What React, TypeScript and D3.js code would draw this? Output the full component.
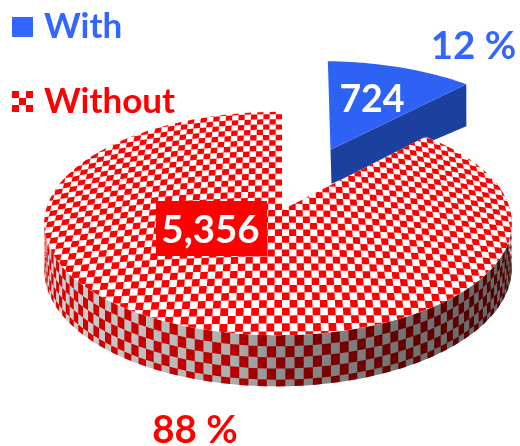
import * as d3 from 'd3';
import { useEffect, useRef } from 'react';

const categories = ['With', 'Without'];
const values = [724, 5356];

const width = 520;
const height = 446;
const BLUE = '#3366ff';
const RED = '#ff0000';

// tilted disc -> screen (plain homography, disc radius is 1)
const cx = 282;
const cy = 210;
const R = 232;
const B = 110;
const K = 0.121;
const M = -0.017;

const den = (u: number, v: number) => 1 - K * v - M * u;
const project = (u: number, v: number): [number, number] => {
  const d = den(u, v);
  return [cx + (R * u) / d, cy + (B * v) / d];
};
const polar = (a: number, r = 1): [number, number] => [r * Math.sin(a), -r * Math.cos(a)];

export default function App() {
  const ref = useRef<SVGSVGElement | null>(null);

  useEffect(() => {
    if (!ref.current) return;
    const svg = d3.select(ref.current);
    svg.selectAll('*').remove();

    const total = d3.sum(values);
    const arcs = d3.pie<number>().sort(null)(values);
    const [blue, red] = arcs;
    const line = d3.line();
    const defs = svg.append('defs');

    const soft = defs.append('filter').attr('id', 'soft');
    soft.append('feGaussianBlur').attr('stdDeviation', 0.55);

    const root = svg.append('g').attr('filter', 'url(#soft)');

    // ---- exploded blue slice
    const mid = (blue.startAngle + blue.endAngle) / 2;
    const [ou, ov] = polar(mid, 0.634);
    const bluePts: [number, number][] = [[ou, ov]];
    d3.range(0, 1.001, 0.04).forEach((t) => {
      const [u, v] = polar(blue.startAngle + t * (blue.endAngle - blue.startAngle));
      bluePts.push([u + ou, v + ov]);
    });
    // the slice sits a bit larger and more upright than the plain projection
    const [ax, ay] = project(ou, ov);
    const blueTop = bluePts.map(([u, v]): [number, number] => {
      const [x, y] = project(u, v);
      return [ax - 1.5 + 1.03 * (x - ax) + 0.03 * (ay - y), ay + 1.03 * (y - ay)];
    });
    const apex = blueTop[0];
    const corner = blueTop[blueTop.length - 1];
    root.append('path')
      .attr('d', line([apex, corner, [corner[0], corner[1] + 42], [apex[0] + 1, apex[1] + 34]]) + 'Z')
      .attr('fill', '#1d3f9e');
    root.append('path').attr('d', line(blueTop) + 'Z').attr('fill', '#2f62f5');

    // ---- red rim, checker in angle and height
    const g1 = defs.append('linearGradient').attr('id', 'rimGrey')
      .attr('gradientUnits', 'userSpaceOnUse')
      .attr('x1', 44).attr('x2', 512).attr('y1', 0).attr('y2', 0);
    const g2 = defs.append('linearGradient').attr('id', 'rimRed')
      .attr('gradientUnits', 'userSpaceOnUse')
      .attr('x1', 44).attr('x2', 512).attr('y1', 0).attr('y2', 0);
    [['0', '#d2d2d2', '#dc0000'], ['0.4', '#aeaeae', '#b80000'], ['0.52', '#8a8a8a', '#860000'], ['0.75', '#747474', '#680000'], ['1', '#666666', '#500000']]
      .forEach(([o, grey, r]) => {
        g1.append('stop').attr('offset', o).attr('stop-color', grey);
        g2.append('stop').attr('offset', o).attr('stop-color', r);
      });

    const rimDepth = 45;
    const rimPoint = (a: number, f: number): [number, number] => {
      const [u, v] = polar(a);
      const [x, y] = project(u, v);
      return [x, y + (f * rimDepth) / den(u, v)];
    };
    const a0 = (75 * Math.PI) / 180;
    const a1 = (285 * Math.PI) / 180;
    const band = d3.range(a0, a1, 0.01);
    root.append('path')
      .attr('d', line([...band.map((a) => rimPoint(a, 0)), ...band.slice().reverse().map((a) => rimPoint(a, 1))]) + 'Z')
      .attr('fill', 'url(#rimGrey)');
    const rimStep = 0.035;
    const rows = 4.6;
    let rimCells = '';
    d3.range(0, Math.ceil((a1 - a0) / rimStep)).forEach((i) => {
      d3.range(0, 5).forEach((j) => {
        if ((i + j) % 2) return;
        const a = a0 + i * rimStep;
        const f0 = j / rows;
        const f1 = Math.min(1, (j + 1) / rows);
        rimCells += line([rimPoint(a, f0), rimPoint(a + rimStep, f0), rimPoint(a + rimStep, f1), rimPoint(a, f1)]) + 'Z';
      });
    });
    root.append('path').attr('d', rimCells).attr('fill', 'url(#rimRed)');

    // ---- red top face
    const redPts: [number, number][] = [[0, 0]];
    d3.range(0, 1.0001, 0.005).forEach((t) => {
      redPts.push(polar(red.startAngle + t * (red.endAngle - red.startAngle)));
    });
    const redTop = line(redPts.map(([u, v]) => project(u, v))) + 'Z';
    defs.append('clipPath').attr('id', 'redClip').append('path').attr('d', redTop);
    root.append('path').attr('d', redTop).attr('fill', '#fff');

    const du = 6.9 / R;
    const dv = 6.3 / B;
    // rows bow upward toward the back of the disc
    const cell = (x: number, y: number) => project(x, y + 0.16 * (1 - y) * x * x);
    let cells = '';
    d3.range(-42, 43).forEach((i) => {
      d3.range(-24, 25).forEach((j) => {
        if ((i + j + 200) % 2) return;
        const x = i * du;
        const y = j * dv;
        cells += line([cell(x, y), cell(x + du, y), cell(x + du, y + dv), cell(x, y + dv)]) + 'Z';
      });
    });
    root.append('g').attr('clip-path', 'url(#redClip)')
      .append('path').attr('d', cells).attr('fill', RED);

    // ---- labels
    const font = 'Lato, Carlito, sans-serif';
    const addText = (x: number, y: number, txt: string, size: number, fill: string, anchor = 'middle') =>
      root.append('text')
        .attr('x', x).attr('y', y)
        .attr('text-anchor', anchor)
        .attr('fill', fill)
        .style('font-family', font)
        .style('font-weight', 700)
        .style('font-size', `${size}px`)
        .text(txt);

    root.append('rect').attr('x', 156).attr('y', 201).attr('width', 111).attr('height', 55).attr('fill', RED);
    addText(372, 112, d3.format(',')(values[0]), 37.5, '#fff');
    addText(210.5, 243, d3.format(',')(values[1]), 38.5, '#fff');

    const pct = (v: number) => `${Math.round((v / total) * 100)} %`;
    addText(473.5, 59, pct(values[0]), 38.5, BLUE);
    addText(195, 443, pct(values[1]), 38.5, RED);

    // ---- legend
    root.append('rect').attr('x', 12).attr('y', 17).attr('width', 21).attr('height', 20).attr('fill', BLUE);
    d3.range(9).forEach((i) => {
      if (i % 2) return;
      root.append('rect')
        .attr('x', 12 + (i % 3) * 7).attr('y', 91 + Math.floor(i / 3) * 7)
        .attr('width', 7).attr('height', 7).attr('fill', RED);
    });
    addText(44, 38, categories[0], 35, BLUE, 'start');
    addText(44, 113, categories[1], 35, RED, 'start');
  }, []);

  return (
    <svg
      ref={ref}
      width={width}
      height={height}
      viewBox={`0 0 ${width} ${height}`}
      style={{ position: 'absolute', left: 0, top: 0, background: '#fff' }}
    />
  );
}
